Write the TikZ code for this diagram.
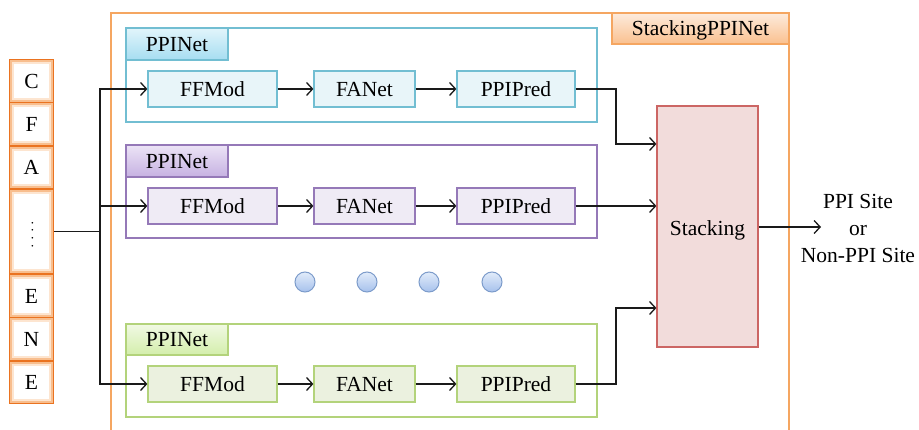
\documentclass[tikz,border=0pt]{standalone}
\usepackage{fontspec}
\setmainfont{Liberation Serif}
\usetikzlibrary{arrows.meta,calc}
\definecolor{cyanB}{HTML}{72BED2}
\definecolor{cyanF}{HTML}{E8F5F9}
\definecolor{cyanT}{HTML}{E2F5FB}
\definecolor{cyanTb}{HTML}{A6DDF1}
\definecolor{purB}{HTML}{9579B8}
\definecolor{purF}{HTML}{EFEBF5}
\definecolor{purT}{HTML}{ECE4F6}
\definecolor{purTb}{HTML}{C6B1E2}
\definecolor{grnB}{HTML}{B3D37B}
\definecolor{grnF}{HTML}{EBF1DF}
\definecolor{grnT}{HTML}{F1F9E4}
\definecolor{grnTb}{HTML}{D3EEAB}
\definecolor{orgB}{HTML}{F5A661}
\definecolor{orgT}{HTML}{FDEBDC}
\definecolor{orgTb}{HTML}{FAC08F}
\definecolor{orgIn}{HTML}{EA7320}
\definecolor{orgGlow}{HTML}{F8BE8E}
\definecolor{orgGlow2}{HTML}{FDE5D0}
\definecolor{stkF}{HTML}{F2DCDB}
\definecolor{stkB}{HTML}{CC6664}
\definecolor{dotB}{HTML}{7D9CCB}
\definecolor{dotT}{HTML}{E2ECFA}
\definecolor{dotBt}{HTML}{A6C1EC}
\definecolor{ink}{HTML}{1A1A1A}
\tikzset{
  txt/.style={font=\fontsize{21.5}{26}\selectfont, text=black, inner sep=0pt, text depth=0pt},
  modbox/.style={txt, draw=#1, line width=1.2pt, minimum height=36pt},
  cont/.style={draw=#1, line width=1.4pt, minimum width=471pt, inner sep=0pt},
  tab/.style={txt, draw=#1, line width=1.2pt, minimum width=102pt, minimum height=32pt},
  inbox/.style={txt, draw=orgIn, line width=2.8pt, fill=white, minimum width=43pt},
  arr/.style={draw=ink, line width=1.3pt, -{Straight Barb[length=6pt,width=13pt,line width=1.3pt]}},
  ln/.style={draw=ink, line width=1.3pt},
  dotc/.style={circle, draw=dotB, line width=1pt, top color=dotT, bottom color=dotBt, minimum size=20pt, inner sep=0pt},
}
\begin{document}
\begin{tikzpicture}[x=1pt,y=-1pt]
\useasboundingbox (0,0) rectangle (919,430);
\begin{scope}
\clip (0,0) rectangle (919,430);
% outer StackingPPINet box
\node[draw=orgB, line width=1.6pt, fill=white, minimum width=678pt, minimum height=440pt, inner sep=0pt] (outer) at (450,233) {};
\end{scope}
\node[txt, draw=orgB, line width=1.3pt, top color=orgT, bottom color=orgTb, minimum width=177pt, minimum height=31pt] (ttl) at (700.5,28.5) {StackingPPINet};

% input column
\foreach \n/\y/\h/\t in {c/81/42/C, f/124/42/F, a/167.5/41/A, v/231.5/83/{}, e1/296/42/E, n/339/42/N, e2/382.5/41/E}{
  \node[inbox, minimum height=\h pt] (in\n) at (31.5,\y) {\t};
  \draw[orgGlow2, line width=2pt] ($(in\n.south west)+(4.7,-4.7)$) rectangle ($(in\n.north east)+(-4.7,4.7)$);
  \draw[orgGlow, line width=2pt] ($(in\n.south west)+(2.7,-2.7)$) rectangle ($(in\n.north east)+(-2.7,2.7)$);
}
\node[font=\fontsize{14}{14}\selectfont, inner sep=0pt, rotate=-90] (vd) at (32.5,234.5) {.\kern4.2pt.\kern4.2pt.\kern4.2pt.};

% containers
\node[cont=cyanB, minimum height=94pt] (c1) at (361.5,75) {};
\node[cont=purB, minimum height=93pt] (c2) at (361.5,191.5) {};
\node[cont=grnB, minimum height=93pt] (c3) at (361.5,370.5) {};

\node[tab=cyanB, top color=cyanT, bottom color=cyanTb] (t1) at (177,44) {PPINet};
\node[tab=purB, top color=purT, bottom color=purTb] (t2) at (177,161) {PPINet};
\node[tab=grnB, top color=grnT, bottom color=grnTb, minimum height=31pt] (t3) at (177,339.5) {PPINet};

% modules
\node[modbox=cyanB, fill=cyanF, minimum width=129pt] (f1) at (212.5,89) {FFMod};
\node[modbox=cyanB, fill=cyanF, minimum width=101pt] (a1) at (364.5,89) {FANet};
\node[modbox=cyanB, fill=cyanF, minimum width=118pt] (p1) at (516,89) {PPIPred};

\node[modbox=purB, fill=purF, minimum width=129pt] (f2) at (212.5,206) {FFMod};
\node[modbox=purB, fill=purF, minimum width=101pt] (a2) at (364.5,206) {FANet};
\node[modbox=purB, fill=purF, minimum width=118pt] (p2) at (516,206) {PPIPred};

\node[modbox=grnB, fill=grnF, minimum width=129pt] (f3) at (212.5,384) {FFMod};
\node[modbox=grnB, fill=grnF, minimum width=101pt] (a3) at (364.5,384) {FANet};
\node[modbox=grnB, fill=grnF, minimum width=118pt] (p3) at (516,384) {PPIPred};

% dots
\node[dotc] (d1) at (305,282) {};
\node[dotc] (d2) at (367,282) {};
\node[dotc] (d3) at (429,282) {};
\node[dotc] (d4) at (492,282) {};

% stacking
\node[txt, draw=stkB, line width=1.2pt, fill=stkF, minimum width=101pt, minimum height=241pt, text height=18pt] (stack) at (707.5,226.5) {Stacking};

% output text
\node[align=center, inner sep=0pt, font=\fontsize{21.5}{27}\selectfont] (out) at (858,228) {PPI Site\\or\\Non-PPI Site};
\coordinate (oend) at (821,227);

% connectors
\coordinate (sp) at (100,231.5);
\draw[ln] (inv.east) -- (sp);
\draw[arr] (sp) |- (f1.west);
\draw[arr] (sp) |- (f2.west);
\draw[arr] (sp) |- (f3.west);

\draw[arr] (f1) -- (a1);
\draw[arr] (a1) -- (p1);
\draw[arr] (f2) -- (a2);
\draw[arr] (a2) -- (p2);
\draw[arr] (f3) -- (a3);
\draw[arr] (a3) -- (p3);

\coordinate (k1) at (616,144);
\coordinate (k3) at (616,308);
\draw[arr] (p1.east) -| (k1) -- (k1 -| stack.west);
\draw[arr] (p2.east) -- (p2.east -| stack.west);
\draw[arr] (p3.east) -| (k3) -- (k3 -| stack.west);

\draw[arr] (stack.east |- oend) -- (oend);
\end{tikzpicture}
\end{document}
